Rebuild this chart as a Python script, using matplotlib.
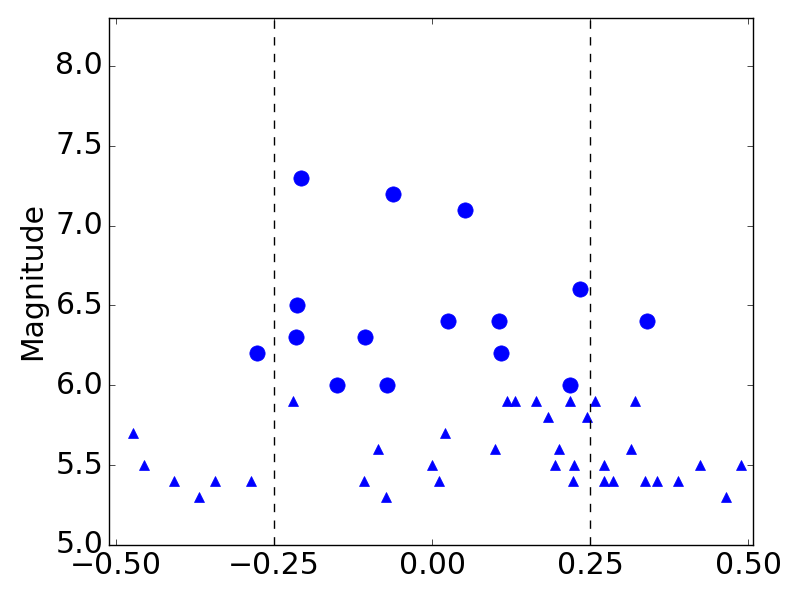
import numpy as np
import matplotlib
matplotlib.use("Agg")
import matplotlib.pyplot as plt

plt.style.use("classic")

# circles (brighter events)
x_big = [-0.277, -0.215, -0.213, -0.2065, -0.150, -0.106, -0.071, -0.0616,
         0.025, 0.052, 0.106, 0.109, 0.218, 0.234, 0.340]
m_big = [6.2, 6.3, 6.5, 7.3, 6.0, 6.3, 6.0, 7.2,
         6.4, 7.1, 6.4, 6.2, 6.0, 6.6, 6.4]

# triangles (smaller events)
x_small = [-0.473, -0.455, -0.408, -0.368, -0.343, -0.287, -0.220, -0.1075,
           -0.085, -0.073, 0.000, 0.011, 0.0206, 0.100, 0.118, 0.131,
           0.1644, 0.1834, 0.1945, 0.2008, 0.218, 0.223, 0.2245, 0.245,
           0.258, 0.272, 0.272, 0.286, 0.314, 0.320, 0.337, 0.3557,
           0.389, 0.4228, 0.465, 0.4885]
m_small = [5.7, 5.5, 5.4, 5.3, 5.4, 5.4, 5.9, 5.4,
           5.6, 5.3, 5.5, 5.4, 5.7, 5.6, 5.9, 5.9,
           5.9, 5.8, 5.5, 5.6, 5.9, 5.4, 5.5, 5.8,
           5.9, 5.5, 5.4, 5.4, 5.6, 5.9, 5.4, 5.4,
           5.4, 5.5, 5.3, 5.5]

window = [-0.25, 0.25]

fig = plt.figure(figsize=(8, 6), dpi=100, facecolor="white")
ax = fig.add_subplot(111)
fig.subplots_adjust(left=0.136, right=0.941, bottom=0.0917, top=0.97)

ax.plot(x_big, m_big, "o", color="b", mec="b", ms=11)
ax.plot(x_small, m_small, "^", color="b", mec="b", ms=7)
for w in window:
    ax.axvline(w, color="k", linestyle="--")

ax.set_xlim(-0.511, 0.507)
ax.set_ylim(5.0, 8.3)
ax.set_xticks([-0.5, -0.25, 0.0, 0.25, 0.5])
ax.set_xticklabels(["\u22120.50", "\u22120.25", "0.00", "0.25", "0.50"])
ax.set_yticks(np.arange(5.0, 8.01, 0.5))
ax.set_yticklabels(["%.1f" % v for v in np.arange(5.0, 8.01, 0.5)])
ax.tick_params(labelsize=21.5)
ax.set_ylabel("Magnitude", fontsize=21.5, labelpad=6)

fig.savefig("out.png", dpi=100, facecolor="white")
